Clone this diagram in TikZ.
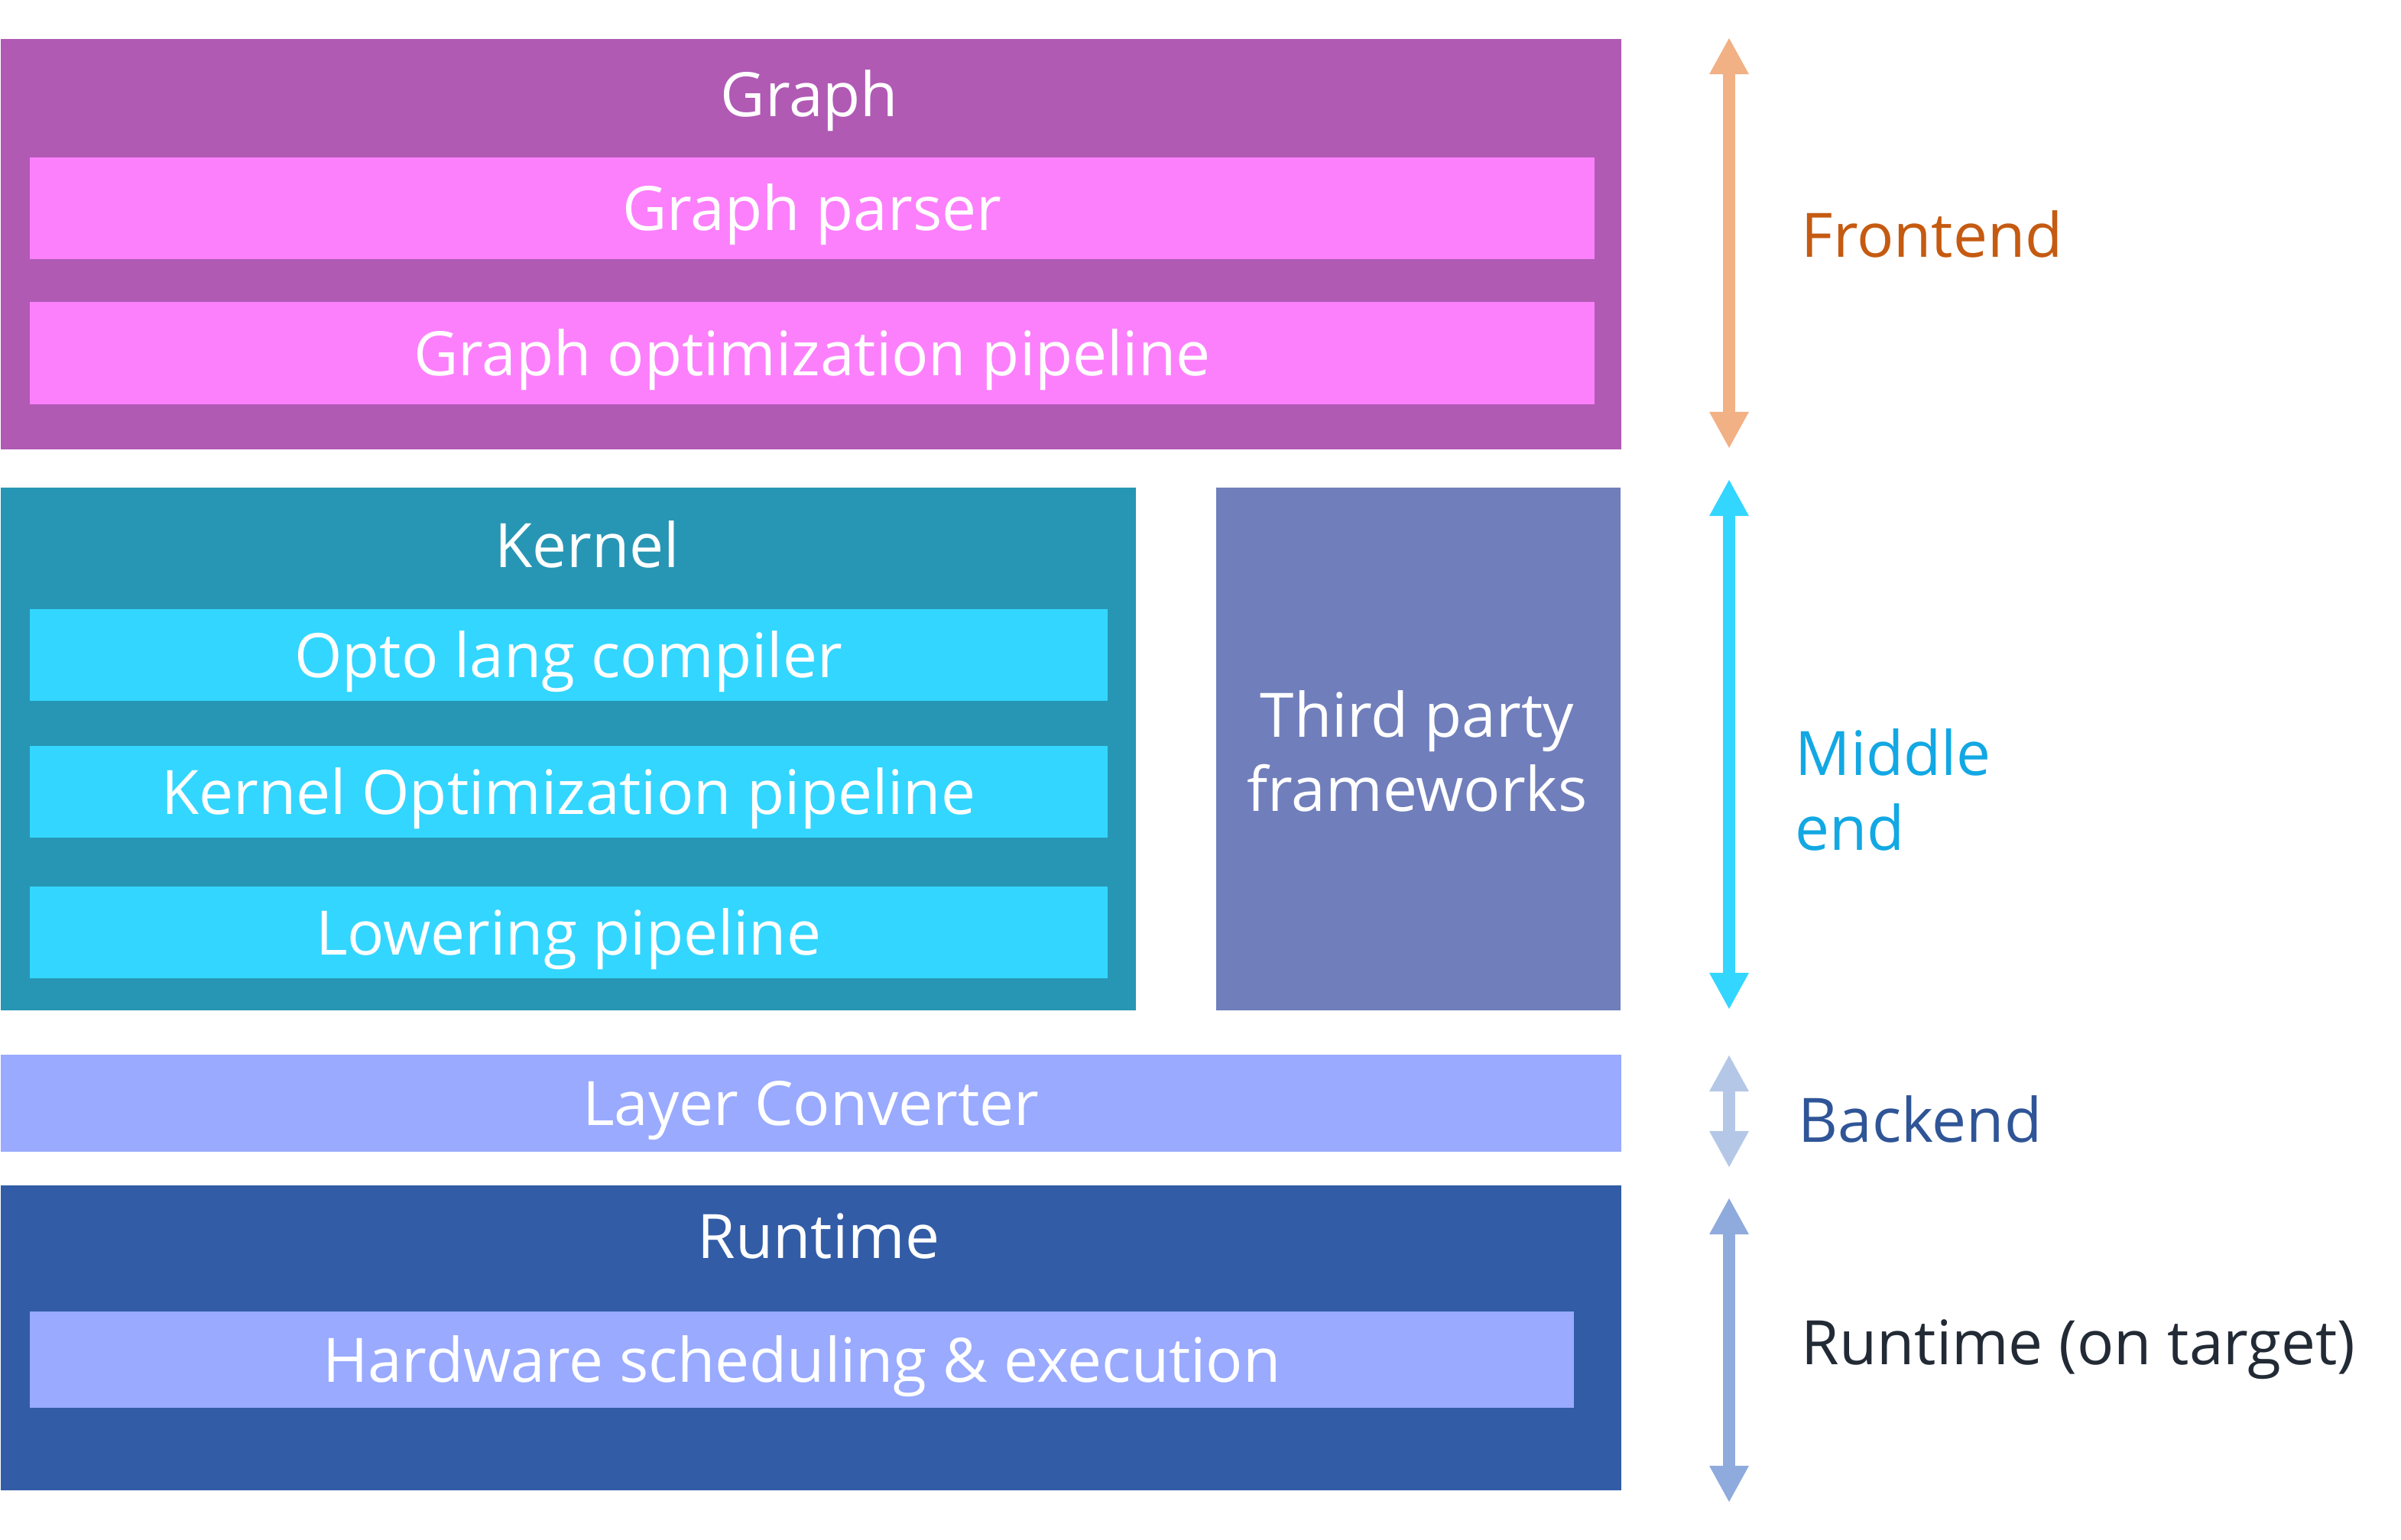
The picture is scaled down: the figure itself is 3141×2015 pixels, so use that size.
\documentclass[tikz,border=0pt]{standalone}
\usepackage{fontspec}
\setmainfont{Open Sans}
\usetikzlibrary{arrows.meta}
\definecolor{graphout}{HTML}{B05AB4}
\definecolor{graphin}{HTML}{FC80FC}
\definecolor{kernout}{HTML}{2796B4}
\definecolor{kernin}{HTML}{33D6FF}
\definecolor{thirdp}{HTML}{707EBB}
\definecolor{layerc}{HTML}{99AAFF}
\definecolor{runout}{HTML}{325CA6}
\definecolor{frontarr}{HTML}{F2B085}
\definecolor{fronttxt}{HTML}{C55A11}
\definecolor{midarr}{HTML}{33D6FF}
\definecolor{midtxt}{HTML}{12A8E3}
\definecolor{backarr}{HTML}{B4C7E7}
\definecolor{backtxt}{HTML}{2F5597}
\definecolor{runarr}{HTML}{8FAADC}
\definecolor{runtxt}{HTML}{222A35}

\tikzset{
 layer/.style={rectangle, inner sep=0, anchor=north west, text=white,
   font=\fontsize{22.8}{27}\selectfont, text height=.59cm, text depth=0cm},
 title/.style={text=white, inner sep=0, font=\fontsize{22.8}{27}\selectfont,
   text height=.59cm, text depth=0cm},
 side/.style={anchor=base west, inner sep=0, align=left,
   font=\fontsize{22.8}{27.8}\selectfont},
 span/.style={line width=.16cm,
   {Triangle[width=.48cm,length=.48cm]}-{Triangle[width=.48cm,length=.48cm]}}
}

\begin{document}
\begin{tikzpicture}[x=.01cm, y=-.01cm]
\useasboundingbox (0,0) rectangle (3141,2015);
% graph block
\node[layer, fill=graphout, minimum width=21.19cm, minimum height=5.37cm] (graph) at (0,50) {};
\node[title] (graphtitle) at (1059,123) {Graph};
\node[layer, fill=graphin, minimum width=20.46cm, minimum height=1.33cm] (gparser) at (38,205) {Graph parser};
\node[layer, fill=graphin, minimum width=20.46cm, minimum height=1.34cm] (gopt) at (38,394) {Graph optimization pipeline};
% kernel block
\node[layer, fill=kernout, minimum width=14.84cm, minimum height=6.84cm] (kernel) at (0,637) {};
\node[title] (kerneltitle) at (768,713) {Kernel};
\foreach \name/\y/\txt in {opto/796/Opto lang compiler, kopt/975/Kernel Optimization pipeline, lower/1159/Lowering pipeline}
 \node[layer, fill=kernin, minimum width=14.09cm, minimum height=1.2cm] (\name) at (38,\y) {\txt};
\node[layer, fill=thirdp, minimum width=5.29cm, minimum height=6.84cm] (third) at (1590,637) {};
\node[title, align=center, text height=, text depth=, font=\fontsize{22.8}{27.5}\selectfont] (thirdtxt) at (1854,983) {Third party\\frameworks};
% backend and runtime
\node[layer, fill=layerc, minimum width=21.19cm, minimum height=1.27cm] (layer) at (0,1379) {Layer Converter};
\node[layer, fill=runout, minimum width=21.19cm, minimum height=3.99cm] (runtime) at (0,1550) {};
\node[title] (runtitle) at (1071,1617) {Runtime};
\node[layer, fill=layerc, minimum width=20.19cm, minimum height=1.26cm] (hw) at (38,1715) {Hardware scheduling \& execution};
% spans on the right
\coordinate (fa) at (2262,49);   \coordinate (fb) at (2262,587);
\coordinate (ma) at (2262,627);  \coordinate (mb) at (2262,1321);
\coordinate (ba) at (2262,1380); \coordinate (bb) at (2262,1528);
\coordinate (ra) at (2262,1567); \coordinate (rb) at (2262,1966);
\draw[span, frontarr] (fa) -- (fb);
\draw[span, midarr] (ma) -- (mb);
\draw[span, backarr] (ba) -- (bb);
\draw[span, runarr] (ra) -- (rb);
\node[side, text=fronttxt] (front) at (2356,336) {Frontend};
\node[side, text=midtxt] (middle) at (2348,1112) {Middle\\end};
\node[side, text=backtxt] (back) at (2352,1494) {Backend};
\node[side, text=runtxt] (run) at (2356,1785) {Runtime (on target)};
\end{tikzpicture}
\end{document}
